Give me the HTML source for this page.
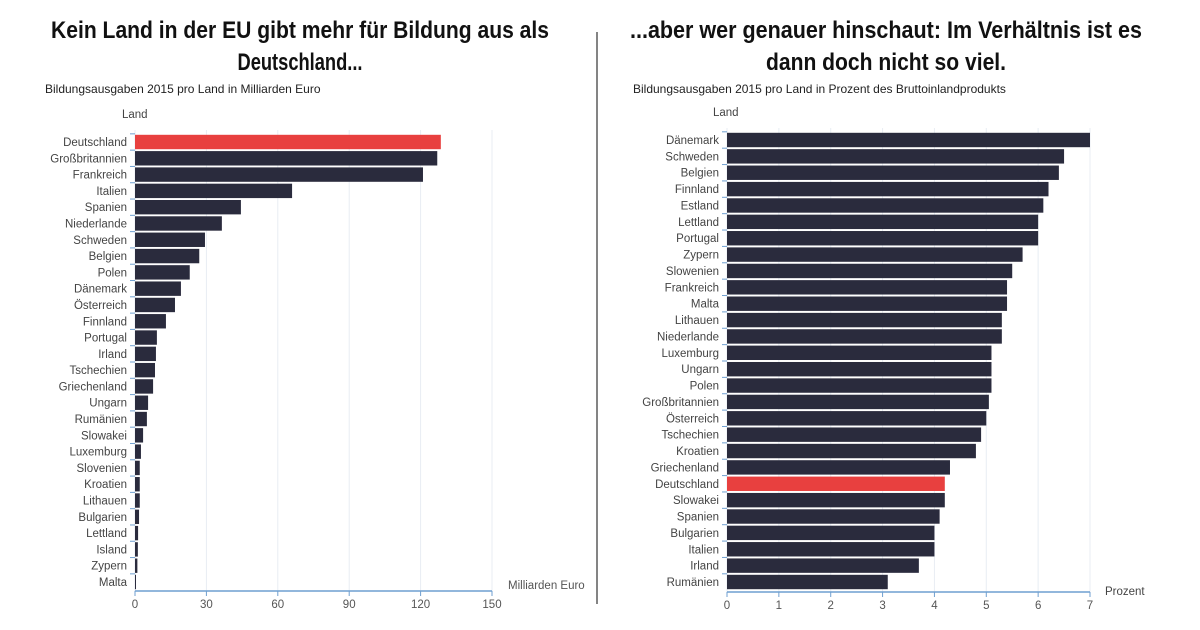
<!DOCTYPE html>
<html><head><meta charset="utf-8">
<style>
html,body{margin:0;padding:0;background:#fff;}
svg{display:block;font-family:"Liberation Sans",sans-serif;}
.title{font-family:"Liberation Sans Narrow","Liberation Sans",sans-serif;font-weight:bold;font-size:24px;fill:#111;}
.sub{font-size:12px;fill:#222;}
.lab{font-size:11.5px;fill:#444;}
.tick{font-size:11.5px;fill:#555;}
</style></head>
<body>
<svg id="svg" width="1200" height="630" viewBox="0 0 1200 630">
<text class="title" x="300" y="38" text-anchor="middle" textLength="498" lengthAdjust="spacingAndGlyphs">Kein Land in der EU gibt mehr für Bildung aus als</text>
<text class="title" x="300" y="70" text-anchor="middle" textLength="125" lengthAdjust="spacingAndGlyphs">Deutschland...</text>
<text class="title" x="886" y="38" text-anchor="middle" textLength="512" lengthAdjust="spacingAndGlyphs">...aber wer genauer hinschaut: Im Verhältnis ist es</text>
<text class="title" x="886" y="70" text-anchor="middle" textLength="240" lengthAdjust="spacingAndGlyphs">dann doch nicht so viel.</text>
<line x1="597" y1="32" x2="597" y2="604" stroke="#333" stroke-width="1.2"/>
<text class="sub" x="45" y="93">Bildungsausgaben 2015 pro Land in Milliarden Euro</text>
<text class="lab" x="122" y="118">Land</text>
<text class="sub" x="633" y="93">Bildungsausgaben 2015 pro Land in Prozent des Bruttoinlandprodukts</text>
<text class="lab" x="713" y="116">Land</text>
<g id="left"></g><g id="right"></g>
</svg>
<script>
const leftCats=["Deutschland","Großbritannien","Frankreich","Italien","Spanien","Niederlande","Schweden","Belgien","Polen","Dänemark","Österreich","Finnland","Portugal","Irland","Tschechien","Griechenland","Ungarn","Rumänien","Slowakei","Luxemburg","Slovenien","Kroatien","Lithauen","Bulgarien","Lettland","Island","Zypern","Malta"];
const leftVals=[128.5,127,121,66,44.5,36.5,29.4,27,23,19.3,16.8,13,9.2,8.8,8.4,7.6,5.5,5,3.4,2.5,2,2,2,1.7,1.3,1.2,1,0.4];
const leftTicks=[0,30,60,90,120,150];
const rightCats=["Dänemark","Schweden","Belgien","Finnland","Estland","Lettland","Portugal","Zypern","Slowenien","Frankreich","Malta","Lithauen","Niederlande","Luxemburg","Ungarn","Polen","Großbritannien","Österreich","Tschechien","Kroatien","Griechenland","Deutschland","Slowakei","Spanien","Bulgarien","Italien","Irland","Rumänien"];
const rightVals=[7.0,6.5,6.4,6.2,6.1,6.0,6.0,5.7,5.5,5.4,5.4,5.3,5.3,5.1,5.1,5.1,5.05,5.0,4.9,4.8,4.3,4.2,4.2,4.1,4.0,4.0,3.7,3.1];
const rightTicks=[0,1,2,3,4,5,6,7];
const NS="http://www.w3.org/2000/svg";
function mk(p,tag,a){const e=document.createElementNS(NS,tag);for(const k in a)e.setAttribute(k,a[k]);p.appendChild(e);return e;}
function draw(gid,cats,vals,ticks,cfg){
  const g=document.getElementById(gid);
  const max=ticks[ticks.length-1];
  const x=v=>cfg.x0+(v/max)*(cfg.x1-cfg.x0);
  const step=(cfg.yl-cfg.yf)/(cats.length-1);
  const y=i=>cfg.yf+i*step;
  ticks.forEach(t=>{
    const l=mk(g,"line",{x1:x(t),x2:x(t),y1:cfg.yf-12,y2:cfg.axisY,stroke:"#e8edf3","stroke-width":1});
    
    
    const tl=mk(g,"text",{x:x(t),y:cfg.axisY+17,"text-anchor":"middle",class:"tick"});
    tl.textContent=t;
    
    
    const tk=mk(g,"line",{x1:x(t),x2:x(t),y1:cfg.axisY,y2:cfg.axisY+5,stroke:"#6f9fd0","stroke-width":1});
    
    
  });
  cats.forEach((c,i)=>{
    const yc=y(i);
    const r=mk(g,"rect",{x:cfg.x0,y:yc-7.2,width:Math.max(1,x(vals[i])-cfg.x0),height:14.4,fill:c==="Deutschland"?"#e8403f":"#2a2b3d"});
    
    
    const t=mk(g,"text",{x:cfg.x0-8,y:yc+4,"text-anchor":"end",class:"lab"});
    t.textContent=c;
    
    
    const tk=mk(g,"line",{x1:cfg.x0-5,x2:cfg.x0,y1:yc-step/2,y2:yc-step/2,stroke:"#6f9fd0","stroke-width":1});
    
    
  });
  const ax=mk(g,"line",{x1:cfg.x0,x2:cfg.x1,y1:cfg.axisY,y2:cfg.axisY,stroke:"#6f9fd0","stroke-width":1.5});
  
  
  const at=mk(g,"text",{x:cfg.titleX,y:cfg.titleY,class:cfg.tcls});
  at.textContent=cfg.title;
  
  
}
draw("left",leftCats,leftVals,leftTicks,{x0:135,x1:492,yf:142,yl:582,axisY:591,title:"Milliarden Euro",titleX:508,titleY:589,tcls:"tick"});
draw("right",rightCats,rightVals,rightTicks,{x0:727,x1:1090,yf:140,yl:582,axisY:592,title:"Prozent",titleX:1105,titleY:595,tcls:"lab"});
</script>
</body></html>
